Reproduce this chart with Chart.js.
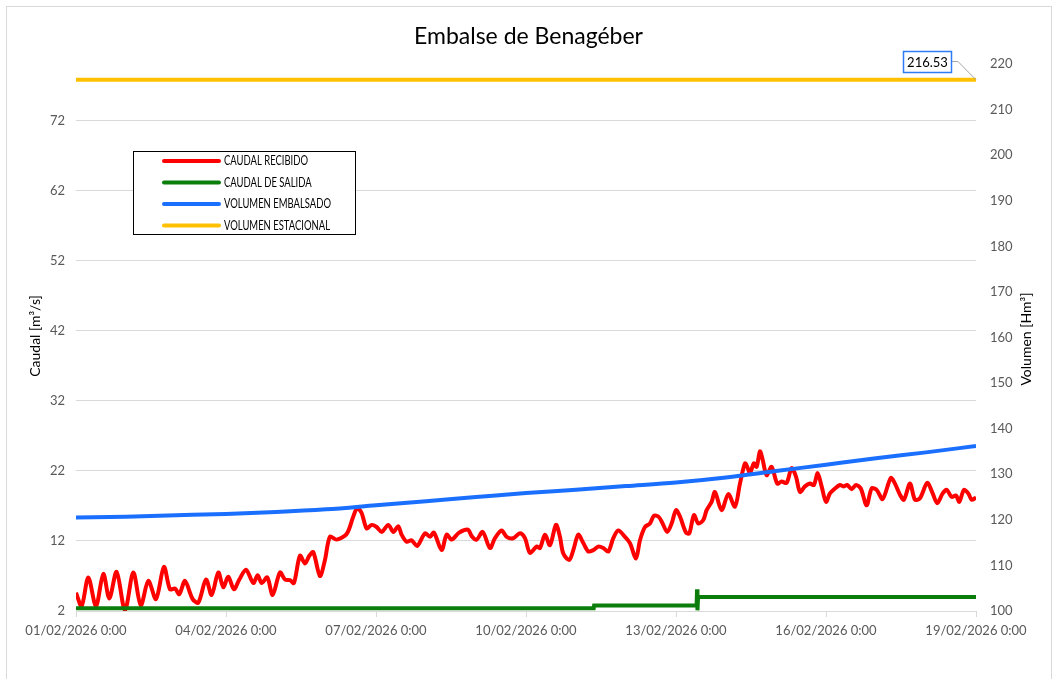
<!DOCTYPE html>
<html>
<head>
<meta charset="utf-8">
<title>Embalse de Benagéber</title>
<script src="https://cdn.jsdelivr.net/npm/chart.js@4.4.1/dist/chart.umd.min.js"></script>
<style>
  html, body { margin: 0; padding: 0; background: #fff; }
  canvas { display: block; }
</style>
</head>
<body>
<canvas id="grafico" width="1057" height="679"></canvas>
<script>
// DATOS (horas desde 01/02/2026 0:00)
const horasRecibido = [
  0, 2.7, 5.9, 9.6, 13.1, 16.0, 19.5, 23.5, 27.5, 31.1, 34.7, 38.4, 42.2, 45.1, 47.5, 49.6,
  52.3, 56.0, 58.7, 62.4, 65.1, 68.3, 70.7, 73.1, 75.8, 78.4, 81.6, 85.1, 87.2, 89.1, 91.8,
  94.4, 97.9, 100.3, 102.7, 104.6, 107.5, 109.9, 112.0, 113.9, 117.1, 119.5, 121.9, 125.1,
  129.9, 133.1, 135.0, 137.1, 139.5, 141.9, 144.3, 146.7, 149.9, 152.3, 154.7, 156.3, 158.7,
  161.1, 163.8, 167.5, 169.9, 171.8, 175.5, 177.9, 180.3, 183.5, 185.9, 188.3, 189.9, 192.3,
  195.2, 198.7, 201.1, 204.3, 206.7, 209.9, 213.1, 215.5, 217.9, 221.1, 222.7, 225.1, 227.5,
  230.4, 232.3, 233.9, 236.8, 238.7, 241.1, 243.5, 245.9, 248.3, 250.7, 253.1, 255.5, 257.9,
  260.3, 263.5, 265.9, 268.8, 270.7, 273.1, 275.5, 277.4, 279.5, 281.1, 283.8, 285.9, 288.0,
  289.9, 292.8, 294.4, 296.6, 298.7, 301.1, 302.7, 305.1, 306.7, 309.9, 313.1, 316.3, 318.7,
  321.1, 322.2, 323.5, 325.4, 326.7, 328.3, 329.6, 331.5, 333.9, 336.6, 338.7, 341.1, 343.5,
  345.6, 347.5, 349.9, 352.3, 354.2, 356.0, 357.9, 360.0, 361.9, 364.3, 366.7, 368.3, 370.2,
  372.3, 374.4, 376.7, 379.5, 381.9, 384.3, 387.2, 391.1, 393.1, 395.5, 397.4, 400.3, 402.7,
  405.1, 408.6, 411.2, 413.4, 416.0, 418.0, 420.3, 422.4, 424.0, 426.2, 428.3, 429.9, 432.0
];
const caudalRecibido = [
  4.6, 2.7, 6.8, 2.7, 7.3, 3.8, 7.6, 2.1, 7.5, 2.8, 6.3, 3.7, 8.3, 5.1, 5.2, 4.4,
  6.3, 3.7, 3.2, 6.5, 4.3, 7.5, 5.4, 6.9, 5.1, 6.5, 7.9, 6.0, 7.1, 6.0, 6.8,
  4.3, 7.5, 6.5, 6.4, 6.0, 9.9, 8.8, 9.9, 10.4, 7.0, 9.3, 12.6, 12.2,
  13.0, 15.5, 16.7, 16.0, 13.8, 14.3, 14.0, 13.3, 14.3, 13.3, 14.1, 12.9, 11.9,
  12.1, 11.3, 13.1, 12.6, 13.2, 10.7, 12.9, 12.2, 13.1, 13.5, 13.6, 12.7, 12.2,
  13.3, 11.0, 12.4, 13.5, 12.6, 12.4, 13.1, 12.4, 10.3, 11.2, 11.0, 12.9, 11.4,
  14.3, 12.6, 10.2, 9.3, 10.7, 12.9, 11.7, 10.5, 10.7, 11.2, 11.0, 10.5, 12.4,
  13.5, 12.6, 11.7, 9.5, 12.1, 14.0, 14.5, 15.6, 15.5, 14.8, 13.3, 14.5, 16.4,
  15.5, 13.2, 13.1, 15.7, 14.5, 15.0, 16.4, 17.6, 19.0, 16.4, 18.7, 16.9, 20.2,
  23.1, 22.6, 21.7, 23.1, 22.6, 24.8, 23.6, 21.4, 22.6, 20.2, 20.5, 20.3, 22.4,
  21.2, 19.0, 19.8, 20.2, 20.0, 21.7, 19.8, 17.6, 18.8, 19.5, 20.0, 19.8, 20.0,
  19.4, 20.0, 19.5, 17.1, 19.5, 19.3, 18.0, 21.0, 20.2, 18.6, 17.9, 20.2, 17.9,
  18.1, 20.3, 18.8, 17.4, 18.8, 19.3, 18.3, 18.5, 17.6, 19.3, 18.8, 17.9, 18.2
];

const horasSalida = [0, 248.5, 248.7, 297.9, 298.1, 298.3, 298.6, 432];
const caudalSalida = [2.4, 2.4, 2.8, 2.8, 5.1, 2.1, 4.0, 4.0];

const horasEmbalsado = [0, 24, 48, 72, 96, 120, 144, 168, 192, 216, 240, 264, 288, 312, 336, 360, 384, 408, 432];
const volumenEmbalsado = [120.5, 120.7, 121.0, 121.3, 121.7, 122.3, 123.2, 124.1, 125.0, 125.9,
  126.6, 127.4, 128.2, 129.3, 130.7, 132.1, 133.5, 134.8, 136.2];

const horasEstacional = [0, 432];
const volumenEstacional = [216.53, 216.53];

const ticksCaudal = [2, 12, 22, 32, 42, 52, 62, 72];
const ticksVolumen = [100, 110, 120, 130, 140, 150, 160, 170, 180, 190, 200, 210, 220];
const ticksFecha = [0, 72, 144, 216, 288, 360, 432];

const FUENTE = "Lato, 'Open Sans', sans-serif";
const GRIS_TEXTO = "#595959";
const GRIS_REJILLA = "#d9d9d9";

// PASAR ARRAYS A PUNTOS {x, y}
function toPoints(xs, ys) {
  return xs.map((x, i) => ({ x: x, y: ys[i] }));
}

// FORMATO DE FECHA PARA EL EJE X
function formatFecha(horas) {
  const d = new Date(Date.UTC(2026, 1, 1) + horas * 3600000);
  const dos = (n) => String(n).padStart(2, "0");
  return dos(d.getUTCDate()) + "/" + dos(d.getUTCMonth() + 1) + "/" + d.getUTCFullYear() +
    " " + d.getUTCHours() + ":" + dos(d.getUTCMinutes());
}

// MARCO, LEYENDA, TITULOS DE EJES Y ETIQUETA
const decorado = {
  id: "decorado",
  beforeDraw(chart) {
    const ctx = chart.ctx;
    ctx.save();
    ctx.fillStyle = "#fff";
    ctx.fillRect(0, 0, chart.width, chart.height);
    ctx.strokeStyle = GRIS_REJILLA;
    ctx.lineWidth = 1;
    ctx.strokeRect(6.5, 6.5, 1045, 700);
    ctx.restore();
  },
  afterDraw(chart) {
    const ctx = chart.ctx;
    ctx.save();

    // titulos de los ejes
    ctx.fillStyle = "#000";
    ctx.font = "14px " + FUENTE;
    ctx.textAlign = "center";
    ctx.textBaseline = "middle";
    ctx.save();
    ctx.translate(35, 336);
    ctx.rotate(-Math.PI / 2);
    ctx.fillText("Caudal [m³/s]", 0, 0);
    ctx.restore();
    ctx.save();
    ctx.translate(1026, 339);
    ctx.rotate(-Math.PI / 2);
    ctx.fillText("Volumen [Hm³]", 0, 0);
    ctx.restore();

    // leyenda (texto estrecho como Calibri)
    ctx.fillStyle = "#fff";
    ctx.fillRect(133, 151, 223, 84);
    ctx.strokeStyle = "#000";
    ctx.lineWidth = 1;
    ctx.strokeRect(133.5, 151.5, 222, 83);
    ctx.font = "13px " + FUENTE;
    ctx.textAlign = "left";
    ctx.lineCap = "round";
    const anchoLargo = ctx.measureText("VOLUMEN EMBALSADO").width;
    const estrecho = Math.min(1, 107 / anchoLargo);
    chart.data.datasets.forEach((ds, i) => {
      const y = 161 + i * 21.5;
      ctx.strokeStyle = ds.borderColor;
      ctx.lineWidth = 4;
      ctx.beginPath();
      ctx.moveTo(164, y);
      ctx.lineTo(219, y);
      ctx.stroke();
      ctx.save();
      ctx.translate(224, y);
      ctx.scale(estrecho, 1);
      ctx.fillStyle = "#000";
      ctx.fillText(ds.label, 0, 0);
      ctx.restore();
    });

    // etiqueta del volumen estacional
    const sx = chart.scales.x;
    const sv = chart.scales.yVolumen;
    const ultimo = horasEstacional.length - 1;
    const px = sx.getPixelForValue(horasEstacional[ultimo]);
    const py = sv.getPixelForValue(volumenEstacional[ultimo]);
    ctx.strokeStyle = "#a6a6a6";
    ctx.lineWidth = 1;
    ctx.lineCap = "butt";
    ctx.beginPath();
    ctx.moveTo(952, 61.5);
    ctx.lineTo(958, 61.5);
    ctx.lineTo(px, py);
    ctx.stroke();
    ctx.fillStyle = "#fff";
    ctx.fillRect(903, 51, 49, 22);
    ctx.strokeStyle = "#2f7bf6";
    ctx.lineWidth = 1.5;
    ctx.strokeRect(903.5, 51.5, 48, 21);
    ctx.fillStyle = "#000";
    ctx.font = "13px " + FUENTE;
    ctx.textAlign = "center";
    ctx.fillText(volumenEstacional[ultimo].toFixed(2), 927.5, 62.5);

    ctx.restore();
  }
};

const ctx = document.getElementById("grafico").getContext("2d");
const graficoEmbalse = new Chart(ctx, {
  type: "line",
  data: {
    datasets: [
      {
        label: "CAUDAL RECIBIDO",
        data: toPoints(horasRecibido, caudalRecibido),
        yAxisID: "yCaudal",
        borderColor: "#ff0000",
        borderWidth: 4,
        tension: 0.3,
        order: 4,
      },
      {
        label: "CAUDAL DE SALIDA",
        data: toPoints(horasSalida, caudalSalida),
        yAxisID: "yCaudal",
        borderColor: "#0a7d0a",
        borderWidth: 4,
        tension: 0,
        order: 3,
      },
      {
        label: "VOLUMEN EMBALSADO",
        data: toPoints(horasEmbalsado, volumenEmbalsado),
        yAxisID: "yVolumen",
        borderColor: "#1a6fff",
        borderWidth: 4,
        cubicInterpolationMode: "monotone",
        order: 2,
      },
      {
        label: "VOLUMEN ESTACIONAL",
        data: toPoints(horasEstacional, volumenEstacional),
        yAxisID: "yVolumen",
        borderColor: "#ffc000",
        borderWidth: 4,
        order: 1,
      },
    ],
  },
  options: {
    responsive: false,
    animation: false,
    events: [],
    elements: { point: { radius: 0 } },
    layout: { padding: 0 },
    plugins: {
      legend: { display: false },
      tooltip: { enabled: false },
      title: {
        display: true,
        text: "Embalse de Benagéber",
        color: "#000",
        font: { family: FUENTE, size: 23, weight: "normal", lineHeight: 1.2 },
        padding: { top: 23, bottom: 13.4 },
      },
    },
    scales: {
      x: {
        type: "linear",
        min: 0,
        max: 432,
        afterBuildTicks: (s) => { s.ticks = ticksFecha.map((v) => ({ value: v })); },
        afterFit: (s) => { s.height = 68; },
        ticks: {
          color: GRIS_TEXTO,
          font: { family: FUENTE, size: 13 },
          maxRotation: 0,
          padding: 6,
          callback: (v) => formatFecha(v),
        },
        grid: { drawOnChartArea: false, color: GRIS_REJILLA, tickLength: 6 },
        border: { color: GRIS_REJILLA },
      },
      yCaudal: {
        position: "left",
        min: 2,
        max: 80.14,
        afterBuildTicks: (s) => { s.ticks = ticksCaudal.map((v) => ({ value: v })); },
        afterFit: (s) => { s.width = 76; },
        ticks: { color: GRIS_TEXTO, font: { family: FUENTE, size: 13 }, padding: 11 },
        grid: { color: GRIS_REJILLA, drawTicks: false },
        border: { display: false },
      },
      yVolumen: {
        position: "right",
        min: 100,
        max: 220,
        afterBuildTicks: (s) => { s.ticks = ticksVolumen.map((v) => ({ value: v })); },
        afterFit: (s) => { s.width = 81; },
        ticks: { color: GRIS_TEXTO, font: { family: FUENTE, size: 13 }, padding: 14 },
        grid: { display: false, drawTicks: false },
        border: { display: false },
      },
    },
  },
  plugins: [decorado],
});
</script>
</body>
</html>
